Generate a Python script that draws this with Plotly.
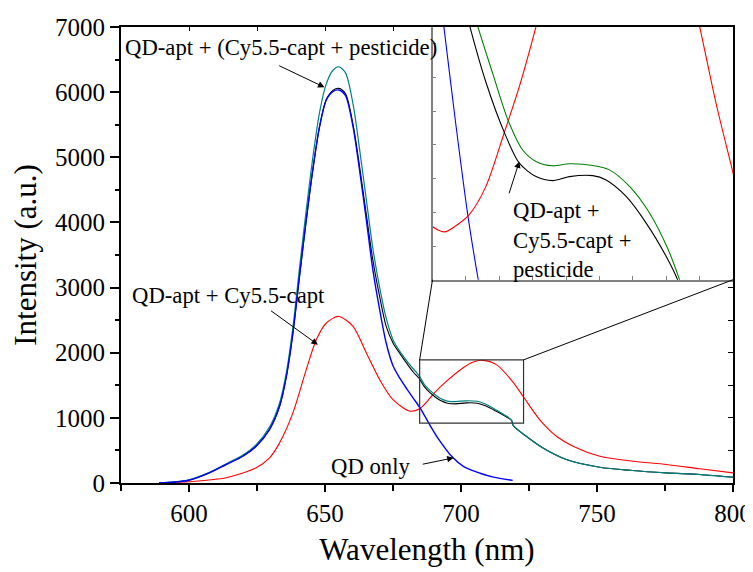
import plotly.graph_objects as go

# ---------------- main plot data ----------------
wl_common = [589, 595, 600, 607.5, 613.7, 619.8, 624.7, 629.6, 633.3, 635.8, 638.2, 640.6, 643.1,
             645.5, 648, 650.5, 653, 655, 657.5, 660.3, 662.7, 665.2, 667.6, 670.1, 672.5, 675,
             677.5, 680, 682.5, 684.7, 686.5, 688.5, 690.5, 692.5, 695, 698, 702, 706, 709, 713,
             716, 718.6, 719.2, 724, 730, 738.7, 751, 763, 775.5, 788, 800]
black_int = [0, 15, 45, 158, 286, 414, 568, 825, 1182, 1640, 2300, 3160, 4030,
             4800, 5470, 5890, 6030, 6058, 5980, 5500, 4860, 4120, 3420, 2860, 2404, 2150,
             1990, 1840, 1700, 1600, 1480, 1390, 1320, 1265, 1225, 1215, 1230, 1225, 1185, 1100,
             1030, 960, 880, 717, 540, 360, 242, 192, 156, 130, 89]
teal_int = [0, 20, 50, 165, 295, 430, 590, 860, 1230, 1700, 2390, 3290, 4190,
            4990, 5690, 6130, 6340, 6390, 6300, 5820, 5130, 4350, 3600, 3000, 2530, 2200,
            2020, 1880, 1750, 1640, 1515, 1425, 1355, 1298, 1258, 1250, 1262, 1255, 1212, 1120,
            1045, 965, 882, 717, 540, 360, 242, 192, 156, 130, 89]

wl_blue = [589, 595, 600, 607.5, 613.7, 619.8, 624.7, 629.6, 633.3, 635.8, 638.2, 640.6, 643.1,
           645.5, 648, 650.5, 653, 655, 657.5, 660.3, 662.7, 665.2, 667.6, 670.1, 672.5, 675,
           677.5, 680, 682.5, 685, 688, 691.5, 697, 701, 707, 712, 719]
blue_int = [0, 15, 43, 156, 284, 411, 564, 820, 1177, 1637, 2303, 3170, 4040,
            4806, 5470, 5879, 6010, 6033, 5950, 5470, 4806, 4040, 3273, 2660, 2149, 1800,
            1610, 1450, 1300, 1150, 930, 690, 390, 250, 150, 90, 40]

wl_red = [589, 600, 613.7, 624.7, 629.6, 633.3, 638.2, 643.1, 646.8, 650.5, 655, 660.3, 665.2,
          670.1, 675, 681.1, 684.8, 687.5, 690.3, 694.6, 700.7, 704, 708.1, 713, 719.1, 722.8,
          728.9, 735.1, 741.2, 751, 763.2, 775.5, 787.8, 800]
red_int = [0, 20, 80, 233, 386, 616, 1076, 1740, 2200, 2456, 2557, 2404, 1996,
           1587, 1280, 1105, 1140, 1250, 1388, 1560, 1766, 1850, 1883, 1817, 1550, 1331,
           973, 717, 564, 411, 334, 284, 218, 156]

# ---------------- inset data (magnified view) ----------------
ins_wl_blue = [681.2, 681.7, 683.5, 685.3, 686.85, 687.5]
ins_blue = [1830, 1751, 1460, 1190, 1000, 930]
ins_wl_red = [679.5, 680.0, 681.8, 683.5, 685.5, 688.0, 690.8, 693.0, 695.5, 696.5,
              700, 708, 715, 719.5, 720.0, 722.5, 725.2, 726]
ins_red = [1175, 1158, 1142, 1160, 1193, 1277, 1440, 1573, 1751, 1830,
           2000, 2150, 2050, 1790, 1751, 1520, 1301, 1230]
ins_wl_black = [685.0, 685.6, 688.05, 690.8, 693.0, 695.5, 698.0, 700.5, 704.0, 706.0,
                709.0, 712.0, 715.0, 716.7, 717.2]
ins_black = [1800, 1751, 1583, 1435, 1346, 1306, 1294, 1306, 1309, 1296,
             1247, 1168, 1069, 1000, 970]
ins_wl_green = [686.2, 686.8, 689.0, 691.3, 693.5, 695.5, 698.0, 700.5, 704.0, 706.5,
                709.5, 712.5, 715.3, 717.0, 717.5]
ins_green = [1800, 1751, 1613, 1474, 1385, 1351, 1338, 1344, 1339, 1326,
             1277, 1198, 1089, 1000, 970]

X_RANGE = [575, 800]
Y_RANGE = [0, 7000]
INS_X = [680, 725]
INS_Y = [1000, 1750]
INS_DOM_X = [0.509, 1.0]
INS_DOM_Y = [0.4458, 1.0]
ZOOM_BOX = dict(x0=684.8, x1=723.0, y0=920, y1=1890)

FONT = "Liberation Serif"
BLUE, RED, TEAL, GREEN, BLACK = "#0000FF", "#FF0000", "#008080", "#008000", "#000000"
SMOOTH = 0.8


def line(color, width):
    return dict(color=color, width=width, shape="spline", smoothing=SMOOTH)


fig = go.Figure()
# main traces (order: red, black, teal, blue)
fig.add_trace(go.Scatter(x=wl_red, y=red_int, mode="lines", line=line(RED, 1.1), showlegend=False))
fig.add_trace(go.Scatter(x=wl_common, y=black_int, mode="lines", line=line(BLACK, 1.1), showlegend=False))
fig.add_trace(go.Scatter(x=wl_common, y=teal_int, mode="lines", line=line(TEAL, 1.2), showlegend=False))
fig.add_trace(go.Scatter(x=wl_blue, y=blue_int, mode="lines", line=line(BLUE, 1.4), showlegend=False))
# dummy trace to activate mirrored inward tick axes
fig.add_trace(go.Scatter(x=[], y=[], xaxis="x3", yaxis="y3", showlegend=False, hoverinfo="skip"))

# inset traces
fig.add_trace(go.Scatter(x=ins_wl_blue, y=ins_blue, xaxis="x2", yaxis="y2", mode="lines",
                         line=line(BLUE, 1.1), showlegend=False))
fig.add_trace(go.Scatter(x=ins_wl_red, y=ins_red, xaxis="x2", yaxis="y2", mode="lines",
                         line=line(RED, 1.1), showlegend=False))
fig.add_trace(go.Scatter(x=ins_wl_black, y=ins_black, xaxis="x2", yaxis="y2", mode="lines",
                         line=line(BLACK, 1.1), showlegend=False))
fig.add_trace(go.Scatter(x=ins_wl_green, y=ins_green, xaxis="x2", yaxis="y2", mode="lines",
                         line=line(GREEN, 1.1), showlegend=False))


def frac(v, r):
    return (v - r[0]) / (r[1] - r[0])


shapes = [
    dict(type="rect", xref="x", yref="y", x0=ZOOM_BOX["x0"], x1=ZOOM_BOX["x1"],
         y0=ZOOM_BOX["y0"], y1=ZOOM_BOX["y1"], line=dict(color="#333333", width=1.2)),
    dict(type="line", xref="paper", yref="paper",
         x0=frac(ZOOM_BOX["x0"], X_RANGE), y0=frac(ZOOM_BOX["y1"], Y_RANGE),
         x1=INS_DOM_X[0], y1=INS_DOM_Y[0], line=dict(color=BLACK, width=1)),
    dict(type="line", xref="paper", yref="paper",
         x0=frac(ZOOM_BOX["x1"], X_RANGE), y0=frac(ZOOM_BOX["y1"], Y_RANGE),
         x1=INS_DOM_X[1], y1=INS_DOM_Y[0], line=dict(color=BLACK, width=1)),
]

tfont = dict(family=FONT, size=22.7, color="black")
arrow = dict(showarrow=True, arrowhead=2, arrowsize=1.3, arrowwidth=1, arrowcolor=BLACK)
annotations = [
    dict(text="QD-apt + (Cy5.5-capt + pesticide)", xref="paper", yref="paper", x=0.0025, y=0.954,
         xanchor="left", yanchor="middle", showarrow=False, font=tfont),
    dict(text="", x=649.8, y=6075, ax=632.6, ay=6417, xref="x", yref="y", axref="x", ayref="y", **arrow),
    dict(text="QD-apt + Cy5.5-capt", xref="x", yref="y", x=578.3, y=2880,
         xanchor="left", yanchor="middle", showarrow=False, font=tfont),
    dict(text="", x=647.4, y=2123, ax=629.6, ay=2660, xref="x", yref="y", axref="x", ayref="y", **arrow),
    dict(text="QD only", xref="x", yref="y", x=651.3, y=260,
         xanchor="left", yanchor="middle", showarrow=False, font=tfont),
    dict(text="", x=697.3, y=386, ax=685.4, ay=284, xref="x", yref="y", axref="x", ayref="y", **arrow),
    dict(text="QD-apt +<br>Cy5.5-capt +<br>pesticide", xref="x2", yref="y2", x=691.8, y=1119,
         xanchor="left", yanchor="middle", align="left", showarrow=False, font=tfont),
    dict(text="", x=693.0, y=1351, ax=691.4, ay=1252, xref="x2", yref="y2", axref="x2", ayref="y2", **arrow),
]

# the page body has an 8 px margin, so the figure is sized 8 px smaller and margins shifted
fig.update_layout(
    width=745, height=564,
    margin=dict(l=113, r=20, t=19, b=89, autoexpand=False),
    paper_bgcolor="white", plot_bgcolor="white",
    font=dict(family=FONT, color="black"),
    shapes=shapes, annotations=annotations,
    xaxis=dict(range=X_RANGE, tick0=600, dtick=50, ticks="outside", ticklen=7, tickwidth=1.5,
               tickcolor=BLACK, showline=True, linecolor=BLACK, linewidth=2, mirror=True,
               showgrid=False, zeroline=False, automargin=False, tickfont=dict(family=FONT, size=25),
               minor=dict(tick0=575, dtick=25, ticks="outside", ticklen=6, tickwidth=1.5, tickcolor=BLACK),
               title=dict(text="Wavelength (nm)", font=dict(family=FONT, size=31), standoff=12)),
    yaxis=dict(range=Y_RANGE, tick0=0, dtick=1000, ticks="outside", ticklen=9, tickwidth=1.5,
               tickcolor=BLACK, showline=True, linecolor=BLACK, linewidth=2, mirror=True,
               showgrid=False, zeroline=False, automargin=False, tickfont=dict(family=FONT, size=25),
               minor=dict(tick0=0, dtick=500, ticks="outside", ticklen=4, tickwidth=1.5, tickcolor=BLACK),
               title=dict(text="Intensity (a.u.)", font=dict(family=FONT, size=31), standoff=10)),
    xaxis3=dict(range=X_RANGE, overlaying="x", side="top", anchor="y", tick0=575, dtick=25,
                ticks="inside", ticklen=4, tickwidth=1.2, tickcolor=BLACK, showticklabels=False,
                showline=False, showgrid=False, zeroline=False, automargin=False),
    yaxis3=dict(range=Y_RANGE, overlaying="y", side="right", anchor="x", tick0=0, dtick=500,
                ticks="inside", ticklen=5, tickwidth=1.2, tickcolor=BLACK, showticklabels=False,
                showline=False, showgrid=False, zeroline=False, automargin=False),
    xaxis2=dict(domain=INS_DOM_X, anchor="y2", range=INS_X, tick0=680, dtick=5, ticks="inside",
                ticklen=4, tickwidth=1, tickcolor="#808080", showticklabels=False, showline=True,
                linecolor="#808080", linewidth=1.5, mirror=False, showgrid=False, zeroline=False,
                automargin=False),
    yaxis2=dict(domain=INS_DOM_Y, anchor="x2", range=INS_Y, tick0=1000, dtick=100, ticks="inside",
                ticklen=4, tickwidth=1, tickcolor="#808080", showticklabels=False, showline=True,
                linecolor="#808080", linewidth=1.5, mirror=False, showgrid=False, zeroline=False,
                automargin=False),
)

fig.write_html("out.html")
